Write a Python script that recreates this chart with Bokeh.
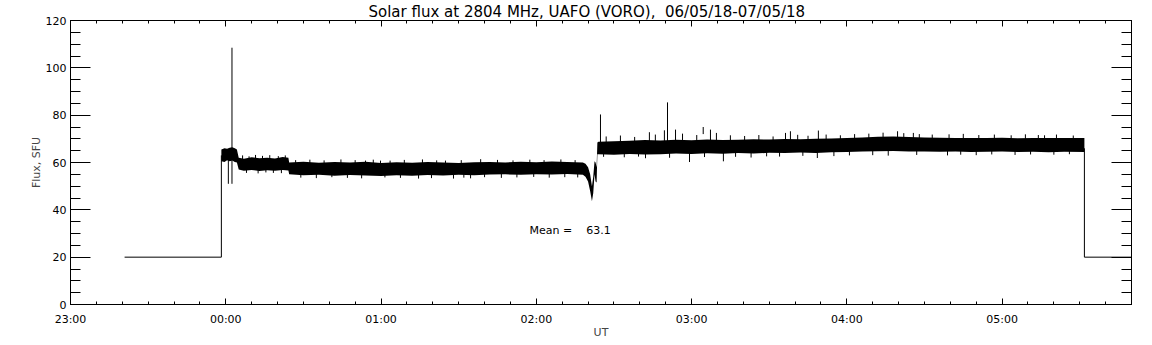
from bokeh.plotting import figure
from bokeh.models import Range1d, FixedTicker, LinearAxis, Label
from bokeh.embed import file_html
from bokeh.resources import INLINE

# time in minutes after 23:00 UT
x_ticks = [0, 60, 120, 180, 240, 300, 360]
x_tick_labels = ["23:00", "00:00", "01:00", "02:00", "03:00", "04:00", "05:00"]
x_minor = list(range(0, 411, 10))
y_ticks = [0, 20, 40, 60, 80, 100, 120]
y_minor = list(range(0, 121, 5))

pre_t = [20.9, 58.3, 58.3]
pre_y = [20, 20, 63]
post_t = [391.8, 391.8, 410]
post_y = [66, 20, 20]

band_t = [58.3, 59.5, 60.5, 61.5, 62.5, 63.5, 64.3,
          65, 67, 70, 73, 76, 79, 82, 84.2,
          84.5, 90, 96, 102, 108, 114, 120, 126, 132, 138, 144, 150, 156, 162, 168, 174, 180, 186, 192, 198,
          199, 200, 200.8, 201.5, 202.0, 202.5, 202.9, 203.3, 203.6,
          204, 210, 216, 222, 228, 234, 240, 246, 252, 258, 264, 270, 276, 282, 288, 294, 300, 306, 312, 318,
          324, 330, 336, 342, 348, 354, 360, 366, 372, 378, 384, 391.8]
band_lo = [60.5, 60.2, 61.0, 60.5, 60.8, 60.2, 60.0,
           57.0, 56.5, 56.8, 56.4, 56.7, 56.5, 56.8, 56.6,
           55.0, 54.6, 54.8, 54.4, 54.7, 54.5, 54.3, 54.6, 54.4, 54.7, 54.5, 54.8, 54.6, 54.9, 55.0, 54.8, 55.0, 54.9, 55.1, 54.8,
           54.0, 52.0, 48.0, 43.6, 47.0, 55.0, 52.0, 51.5, 63.5,
           63.5, 63.3, 63.6, 63.4, 63.5, 63.8, 63.6, 63.9, 63.7, 64.0, 63.8, 64.1, 64.0, 64.2, 64.0, 64.3, 64.4, 64.6, 64.8, 64.9,
           64.7, 64.6, 64.5, 64.6, 64.4, 64.5, 64.6, 64.4, 64.5, 64.3, 64.5, 64.4]
band_hi = [65.5, 66.0, 65.8, 66.2, 66.4, 66.0, 65.5,
           62.0, 61.6, 62.2, 61.8, 62.0, 61.7, 62.3, 62.0,
           60.0, 60.3, 59.9, 60.2, 60.0, 60.3, 59.8, 60.1, 59.9, 60.2, 60.0, 59.8, 60.1, 60.2, 60.0, 60.3, 60.1, 60.4, 60.2, 60.0,
           59.5, 58.0, 55.0, 50.0, 54.0, 60.5, 60.0, 58.0, 68.5,
           68.8, 69.0, 69.2, 69.5, 69.3, 69.6, 69.4, 69.7, 69.5, 69.6, 69.8, 69.7, 69.9, 69.8, 70.0, 70.1, 70.3, 70.6, 70.9, 71.0,
           70.8, 70.6, 70.5, 70.3, 70.4, 70.3, 70.5, 70.2, 70.4, 70.3, 70.4, 70.3]

# isolated spikes
spike_t = [61.0, 62.4, 78.4, 114.0, 119.8, 134.5, 144.9, 148.0, 154.6,
           204.8, 230.7, 229.5, 233.8, 247.3, 249.6, 223.7, 276.3, 278.2, 289.0, 319.6, 325.7, 376.4,
           239.2, 252.3, 222.2, 288.6, 338.9]
spike_lo = [51.0, 51.0, 55.6, 57.0, 57.0, 53.2, 57.0, 53.2, 53.3,
            66.0, 66.0, 66.0, 66.0, 66.0, 66.0, 66.0, 66.0, 66.0, 66.0, 66.0, 66.0, 66.0,
            60.2, 60.5, 61.8, 61.9, 63.0]
spike_hi = [63.0, 108.5, 59.0, 60.8, 60.8, 57.0, 60.8, 57.0, 57.0,
            80.3, 85.4, 73.6, 73.9, 73.9, 72.5, 72.8, 72.5, 73.2, 73.5, 73.2, 72.5, 71.5,
            66.0, 66.0, 66.0, 66.0, 66.0]

# small jags along the upper edge of the noise band
jag_up_t = [66.5, 69.0, 71.5, 74.2, 77.0, 80.3, 83.0,
            87.0, 92.5, 98.0, 104.5, 110.0, 117.0, 123.5, 129.0, 136.0, 141.5, 151.0, 158.5, 165.0, 171.0, 177.5, 183.0, 189.5, 195.0,
            207.0, 212.5, 218.0, 226.0, 236.5, 242.0, 244.5, 255.0, 260.5, 266.0, 271.5, 281.0, 285.0, 292.0, 297.5,
            303.0, 308.5, 314.0, 322.0, 328.0, 333.0, 339.5, 345.0, 351.0, 357.0, 363.5, 369.0, 374.0, 381.0, 387.5]
jag_up_hi = [63.0, 62.6, 63.2, 62.8, 63.1, 62.7, 63.0,
             61.0, 61.2, 60.9, 61.3, 61.0, 61.2, 60.8, 61.1, 61.3, 60.9, 61.0, 61.4, 61.1, 60.9, 61.2, 61.0, 61.3, 61.0,
             71.0, 71.4, 70.8, 71.8, 72.2, 71.6, 75.0, 71.5, 71.2, 71.6, 71.0, 71.7, 71.3, 71.8, 71.5,
             72.0, 72.2, 72.6, 72.4, 72.0, 71.8, 71.9, 72.1, 71.6, 71.8, 71.5, 71.9, 71.6, 71.8, 71.4]
# small jags along the lower edge of the noise band
jag_dn_t = [68.0, 72.5, 75.5, 81.5,
            89.0, 95.0, 101.0, 107.0, 112.5, 121.5, 127.5, 139.5, 152.0, 160.0, 166.5, 172.5, 179.0, 185.0, 191.0, 196.0,
            206.0, 214.0, 219.5, 231.5, 245.0, 257.0, 263.0, 269.0, 274.0, 283.0, 295.0, 301.0, 310.0, 316.0,
            327.0, 344.0, 350.0, 356.0, 365.0, 371.0, 380.0, 386.0]
jag_dn_lo = [55.6, 55.4, 55.8, 55.5,
             53.6, 53.4, 53.8, 53.5, 53.3, 53.7, 53.5, 53.4, 53.6, 53.8, 53.5, 53.7, 53.9, 53.6, 53.8, 53.7,
             62.4, 62.2, 62.5, 62.0, 62.3, 62.4, 62.1, 62.6, 62.5, 62.8, 62.7, 63.0, 63.1, 62.9,
             63.2, 63.3, 63.1, 63.4, 63.2, 63.4, 63.3, 63.5]

title_text = "Solar flux at 2804 MHz, UAFO (VORO),\u00a0\u00a006/05/18-07/05/18"
mean_text = "Mean =\u00a0\u00a0\u00a0\u00a063.1"

FONT = "DejaVu Sans"

p = figure(frame_width=1061, frame_height=284, output_backend="svg", toolbar_location=None,
           x_range=Range1d(0, 410), y_range=Range1d(0, 120),
           min_border_left=70, min_border_right=20, min_border_top=19, min_border_bottom=41,
           background_fill_color="white", border_fill_color="white",
           title=title_text)
p.title.align = "left"
p.title.offset = 298
p.title.standoff = 0
p.title.text_font = FONT
p.title.text_font_size = "15px"
p.title.text_font_style = "normal"
p.title.text_color = "black"
p.xgrid.visible = False
p.ygrid.visible = False
p.outline_line_color = "black"
p.outline_line_width = 1

def common(ax, labels):
    ax.major_tick_out = 0
    ax.minor_tick_out = 0
    ax.axis_line_color = "black"
    ax.major_tick_line_color = "black"
    ax.minor_tick_line_color = "black"
    ax.major_label_text_font = FONT
    ax.major_label_text_font_size = "11px"
    ax.major_label_text_color = "black" if labels else None

def style_x(ax, labels=True):
    ax.ticker = FixedTicker(ticks=x_ticks, minor_ticks=x_minor)
    ax.major_tick_in = 6
    ax.minor_tick_in = 3
    common(ax, labels)
    names = x_tick_labels if labels else [""] * len(x_ticks)
    ax.major_label_overrides = {t: l for t, l in zip(x_ticks, names)}

def style_y(ax, labels=True):
    ax.ticker = FixedTicker(ticks=y_ticks, minor_ticks=y_minor)
    ax.major_tick_in = 20
    ax.minor_tick_in = 10
    common(ax, labels)
    if not labels:
        ax.major_label_overrides = {t: "" for t in y_ticks}

style_x(p.xaxis[0])
p.xaxis[0].major_label_standoff = 8
p.xaxis[0].axis_label = "UT"
p.xaxis[0].axis_label_text_font = FONT
p.xaxis[0].axis_label_text_font_size = "11px"
p.xaxis[0].axis_label_text_font_style = "normal"
p.xaxis[0].axis_label_standoff = -3

style_y(p.yaxis[0])
p.yaxis[0].major_label_standoff = 4
p.yaxis[0].axis_label = "Flux, SFU"
p.yaxis[0].axis_label_text_font = FONT
p.yaxis[0].axis_label_text_font_size = "11px"
p.yaxis[0].axis_label_text_font_style = "normal"
p.yaxis[0].axis_label_standoff = 0

top = LinearAxis()
style_x(top, labels=False)
top.major_label_standoff = 0
p.add_layout(top, "above")
right = LinearAxis()
style_y(right, labels=False)
right.major_label_standoff = 0
p.add_layout(right, "right")

p.line(pre_t, pre_y, line_color="black", line_width=1)
p.line(post_t, post_y, line_color="black", line_width=1)
p.varea(x=band_t, y1=band_lo, y2=band_hi, fill_color="black")
p.segment(x0=spike_t, y0=spike_lo, x1=spike_t, y1=spike_hi, line_color="black", line_width=1)
jag_up_base = [v - 3 for v in jag_up_hi]
jag_dn_base = [v + 3 for v in jag_dn_lo]
p.segment(x0=jag_up_t, y0=jag_up_base, x1=jag_up_t, y1=jag_up_hi, line_color="black", line_width=1)
p.segment(x0=jag_dn_t, y0=jag_dn_lo, x1=jag_dn_t, y1=jag_dn_base, line_color="black", line_width=1)

p.add_layout(Label(x=177.4, y=31.4, text=mean_text, text_align="left", text_baseline="middle",
                   text_font=FONT, text_font_size="11px", text_color="black"))

open("out.html", "w").write(file_html(p, INLINE))
